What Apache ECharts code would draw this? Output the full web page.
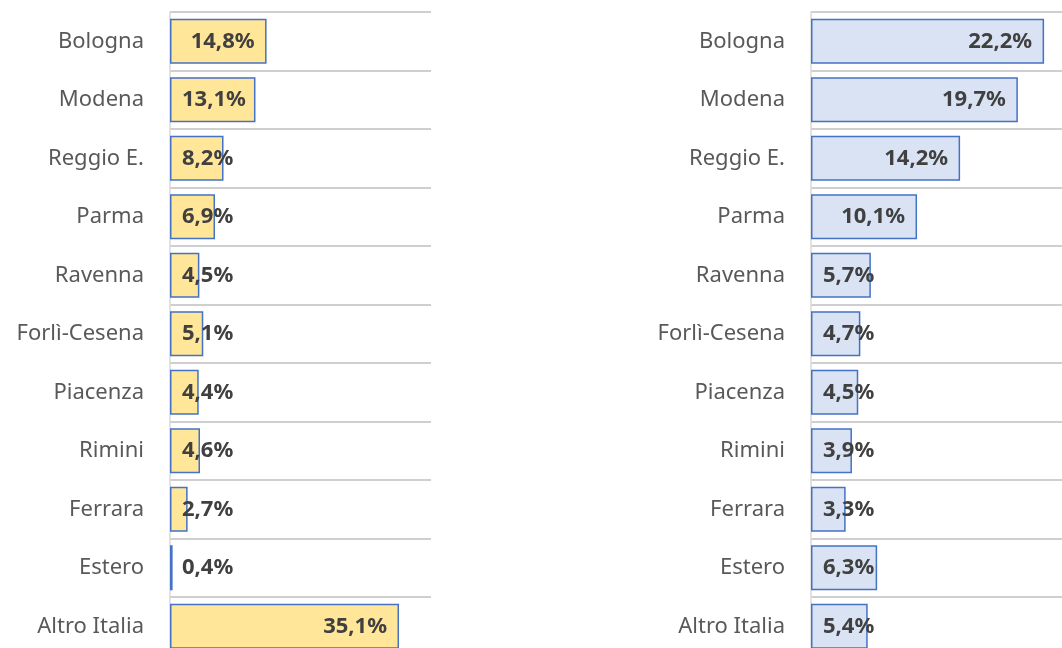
<!DOCTYPE html>
<html>
<head>
<meta charset="utf-8">
<script src="https://cdn.jsdelivr.net/npm/echarts@6/dist/echarts.min.js"></script>
<style>
  html, body { margin: 0; padding: 0; background: #fff; }
  #chart { width: 1062px; height: 648px; }
</style>
</head>
<body>
<div id="chart"></div>
<script>
const categories = ['Bologna', 'Modena', 'Reggio E.', 'Parma', 'Ravenna', 'Forlì-Cesena',
    'Piacenza', 'Rimini', 'Ferrara', 'Estero', 'Altro Italia']
const leftValues = [14.8, 13.1, 8.2, 6.9, 4.5, 5.1, 4.4, 4.6, 2.7, 0.4, 35.1]
const rightValues = [22.2, 19.7, 14.2, 10.1, 5.7, 4.7, 4.5, 3.9, 3.3, 6.3, 5.4]

const FONT = "'Noto Sans', sans-serif"
const fmt = (v) => v.toFixed(1).replace('.', ',') + '%'

// label goes inside the bar end when it fits, otherwise starts near the axis
const withLabels = (values, pxPerUnit) => values.map((v) => {
    const textW = fmt(v).length * 13
    const fits = v * pxPerUnit >= textW + 24
    return {
        value: v,
        label: { position: fits ? 'insideRight' : 'insideLeft', distance: 12 }
    }
})

const yAxisFor = (gridIndex) => ({
    type: 'category',
    gridIndex,
    inverse: true,
    data: categories,
    axisTick: { show: false },
    axisLine: { show: true, lineStyle: { color: '#d9d9d9', width: 1.5 } },
    axisLabel: { color: '#595959', fontSize: 22, fontFamily: FONT, margin: 26 },
    splitLine: { show: true, interval: 0, lineStyle: { color: '#bfbfbf', width: 1.5 } }
})

const xAxisFor = (gridIndex, max) => ({
    type: 'value',
    gridIndex,
    min: 0,
    max,
    show: false,
    splitLine: { show: false }
})

const seriesFor = (idx, values, pxPerUnit, fill) => ({
    type: 'bar',
    xAxisIndex: idx,
    yAxisIndex: idx,
    barCategoryGap: '23%',
    data: withLabels(values, pxPerUnit),
    itemStyle: { color: fill, borderColor: '#4472c4', borderWidth: 1.5 },
    label: {
        show: true,
        formatter: (p) => fmt(p.value),
        color: '#404040',
        fontSize: 22,
        fontWeight: 'bold',
        fontFamily: FONT
    },
    emphasis: { disabled: true }
})

const chart = echarts.init(document.getElementById('chart'))
chart.setOption({
    animation: false,
    grid: [
        { left: 170, top: 12, width: 261, height: 643.5, outerBoundsMode: 'none' },
        { left: 811, top: 12, width: 262.5, height: 643.5, outerBoundsMode: 'none' }
    ],
    xAxis: [xAxisFor(0, 40), xAxisFor(1, 25)],
    yAxis: [yAxisFor(0), yAxisFor(1)],
    series: [
        seriesFor(0, leftValues, 261 / 40, '#ffe699'),
        seriesFor(1, rightValues, 262.5 / 25, '#dae3f3')
    ]
})
</script>
</body>
</html>
